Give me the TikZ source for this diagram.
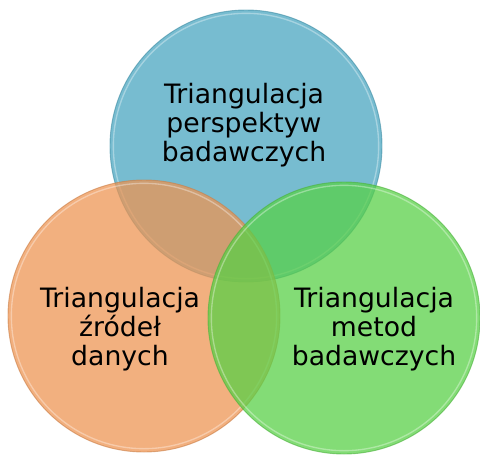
\documentclass[tikz,border=0pt]{standalone}
\usepackage{fontspec}
\setmainfont{DejaVu Sans}
\definecolor{perspBlue}{RGB}{72,165,192}
\definecolor{zrodlaOrange}{RGB}{238,148,82}
\definecolor{metodyGreen}{RGB}{88,208,70}
\tikzset{
  venn/.style={circle, minimum size=204pt, inner sep=0pt, fill opacity=0.74, draw opacity=0.6, line width=0.7pt},
  rim/.style={circle, minimum size=199pt, inner sep=0pt, draw=white, draw opacity=0.35, line width=1pt},
  label/.style={align=center, font=\fontsize{20}{21.8}\selectfont, text=black}
}
\begin{document}
\begin{tikzpicture}[x=0.75pt,y=-0.75pt]
            \useasboundingbox (0,0) rectangle (480,455);
            % Circles
            \node[venn, fill=perspBlue, draw=perspBlue!85!black] (persp) at (246,146) {};
            \node[rim] (perspRim) at (persp) {};
            \node[venn, fill=zrodlaOrange, draw=zrodlaOrange!85!black] (zrodla) at (144,316) {};
            \node[rim] (zrodlaRim) at (zrodla) {};
            \node[venn, fill=metodyGreen, draw=metodyGreen!85!black] (metody) at (344,318) {};
            \node[rim] (metodyRim) at (metody) {};

            % Labels
            \node[label] (perspTxt) at (244,125) {Triangulacja\\perspektyw\\badawczych};
            \node[label] (zrodlaTxt) at (120,329) {Triangulacja\\źródeł\\danych};
            \node[label] (metodyTxt) at (374,329) {Triangulacja\\metod\\badawczych};
        \end{tikzpicture}
\end{document}
